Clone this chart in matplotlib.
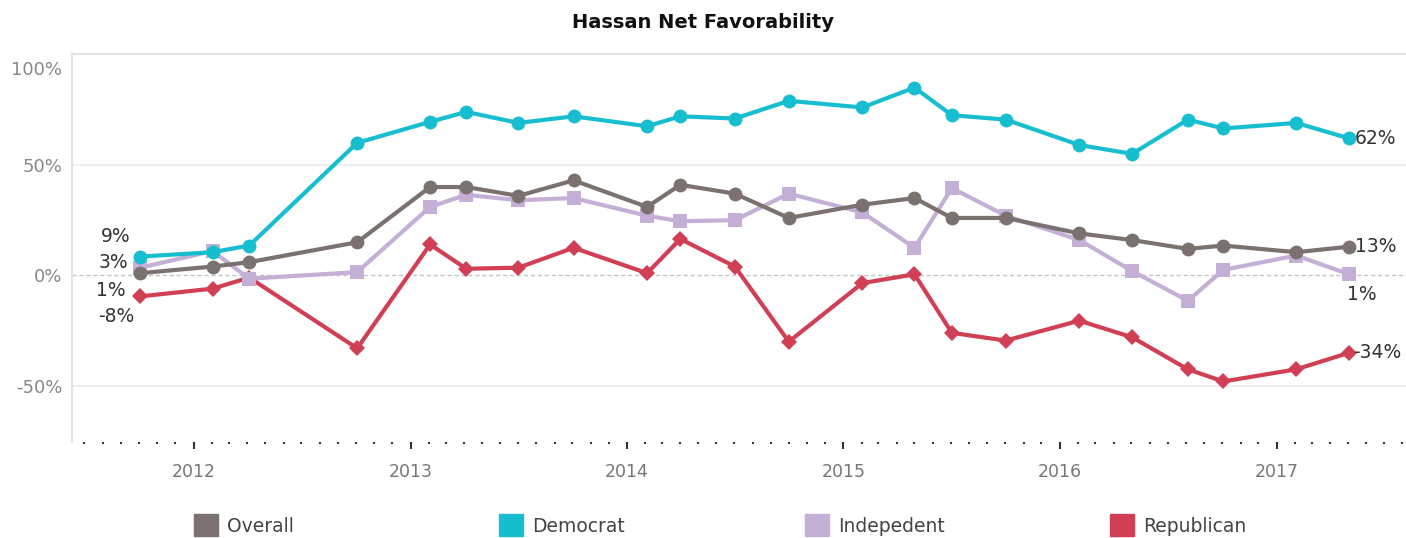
import numpy as np
import pandas as pd
import matplotlib
matplotlib.use('Agg')
import matplotlib.pyplot as plt
import matplotlib.dates as mdates
from matplotlib.patches import Rectangle
from matplotlib.transforms import ScaledTranslation

# poll dates and net favorability (%)
dates = pd.to_datetime([
    '2011-10-03', '2012-02-02', '2012-04-04', '2012-10-03',
    '2013-02-03', '2013-04-05', '2013-07-02', '2013-10-03',
    '2014-02-04', '2014-04-01', '2014-07-02', '2014-10-01',
    '2015-02-02', '2015-05-01', '2015-07-03', '2015-10-02',
    '2016-02-03', '2016-05-02', '2016-08-04', '2016-10-03',
    '2017-02-03', '2017-05-03'])

overall = [1, 4, 6, 15, 40, 40, 36, 43, 31, 41, 37, 26,
           32, 35, 26, 26, 19, 16, 12, 13.5, 10.5, 13]
democrat = [8.5, 10.5, 13.5, 60, 69.5, 74, 69, 72, 67.5, 72, 71, 79,
            76, 85, 72.5, 70.5, 59, 55, 70.5, 66.5, 69, 62]
independent = [3.5, 11, -1.5, 1.5, 31, 36.5, 34, 35, 27, 24.5, 25, 37,
               28.5, 12.5, 39.5, 27, 16, 2, -11.5, 2.5, 9, 0.5]
republican = [-9.5, -6, -1, -33, 14, 3, 3.5, 12.5, 1, 16.5, 4, -30,
              -3.5, 0.5, -26, -29.5, -20.5, -28, -42.5, -48, -42.5, -35]

names = ['Overall', 'Democrat', 'Indepedent', 'Republican']
start_labels = ['1%', '9%', '3%', '-8%']
end_labels = ['13%', '62%', '1%', '-34%']

colors = ['#7b7270', '#17becf', '#c4b0d6', '#d13f55']
markers = ['o', 'o', 's', 'D']
msizes = [10, 10, 10.5, 8]
zorders = [4, 5, 3, 2]
# label offsets in pixels (dx, dy, ha)
start_off = [(-15, -17, 'right'), (-10, 20, 'right'), (-12, 5, 'right'), (-6, -20, 'right')]
end_off = [(6, 0, 'left'), (6, 0, 'left'), (13, -20, 'center'), (4, 0, 'left')]

W, H = 1406, 538
fig = plt.figure(figsize=(W / 100, H / 100), dpi=100)
ax = fig.add_axes([72 / W, 1 - 442 / H, (W - 72) / W, (442 - 54) / H])

series = [overall, democrat, independent, republican]
for i, vals in enumerate(series):
    ax.plot(dates, vals, color=colors[i], lw=3, marker=markers[i],
            markersize=msizes[i], markeredgewidth=0, zorder=zorders[i])
    dx, dy, ha = start_off[i]
    ax.annotate(start_labels[i], (dates[0], vals[0]), xytext=(dx, dy),
                textcoords='offset pixels', ha=ha, va='center',
                fontsize=13.5, color='#333333')
    dx, dy, ha = end_off[i]
    ax.annotate(end_labels[i], (dates[-1], vals[-1]), xytext=(dx, dy),
                textcoords='offset pixels', ha=ha, va='center',
                fontsize=13.5, color='#333333')

for yv in [50, -50]:
    ax.axhline(yv, color='#efefef', lw=1.5, zorder=0)
ax.axhline(0, color='#c4c4c4', lw=1, ls=(0, (3, 2)), zorder=1)

ax.set_ylim(-75.4, 100.2)
ax.set_xlim(pd.Timestamp('2011-06-10'), pd.Timestamp('2017-08-07'))

ax.set_yticks([-50, 0, 50, 100])
ax.set_yticklabels(['-50%', '0%', '50%', '100%'])
ax.tick_params(axis='y', length=0, pad=7, labelsize=13, labelcolor='#888888')
top_lab = ax.yaxis.get_major_ticks()[-1].label1
top_lab.set_verticalalignment('top')
top_lab.set_transform(top_lab.get_transform() + ScaledTranslation(0, -7 / 100, fig.dpi_scale_trans))

ax.xaxis.set_major_locator(mdates.YearLocator())
ax.xaxis.set_major_formatter(mdates.DateFormatter('%Y'))
ax.xaxis.set_minor_locator(mdates.MonthLocator())
ax.tick_params(axis='x', which='major', length=5, width=1.5, color='#333333',
               pad=10, labelsize=12.5, labelcolor='#777777')
ax.tick_params(axis='x', which='minor', length=1.5, width=1.5, color='#333333')

for s in ['right', 'bottom']:
    ax.spines[s].set_visible(False)
for s in ['left', 'top']:
    ax.spines[s].set_color('#e2e2e2')
    ax.spines[s].set_linewidth(1.5)

fig.text(0.5, 1 - 22 / H, 'Hassan Net Favorability', ha='center', va='center',
         fontsize=14, fontweight='bold', color='#111111')

# legend along the bottom
leg_x = [194, 499, 805, 1110]
for i, name in enumerate(names):
    fig.add_artist(Rectangle((leg_x[i] / W, 2 / H), 24 / W, 22 / H,
                             transform=fig.transFigure, color=colors[i]))
    fig.text((leg_x[i] + 33) / W, 1 - 526 / H, name, ha='left', va='center',
             fontsize=13.5, color='#444444')

fig.savefig('out.png', dpi=100)
